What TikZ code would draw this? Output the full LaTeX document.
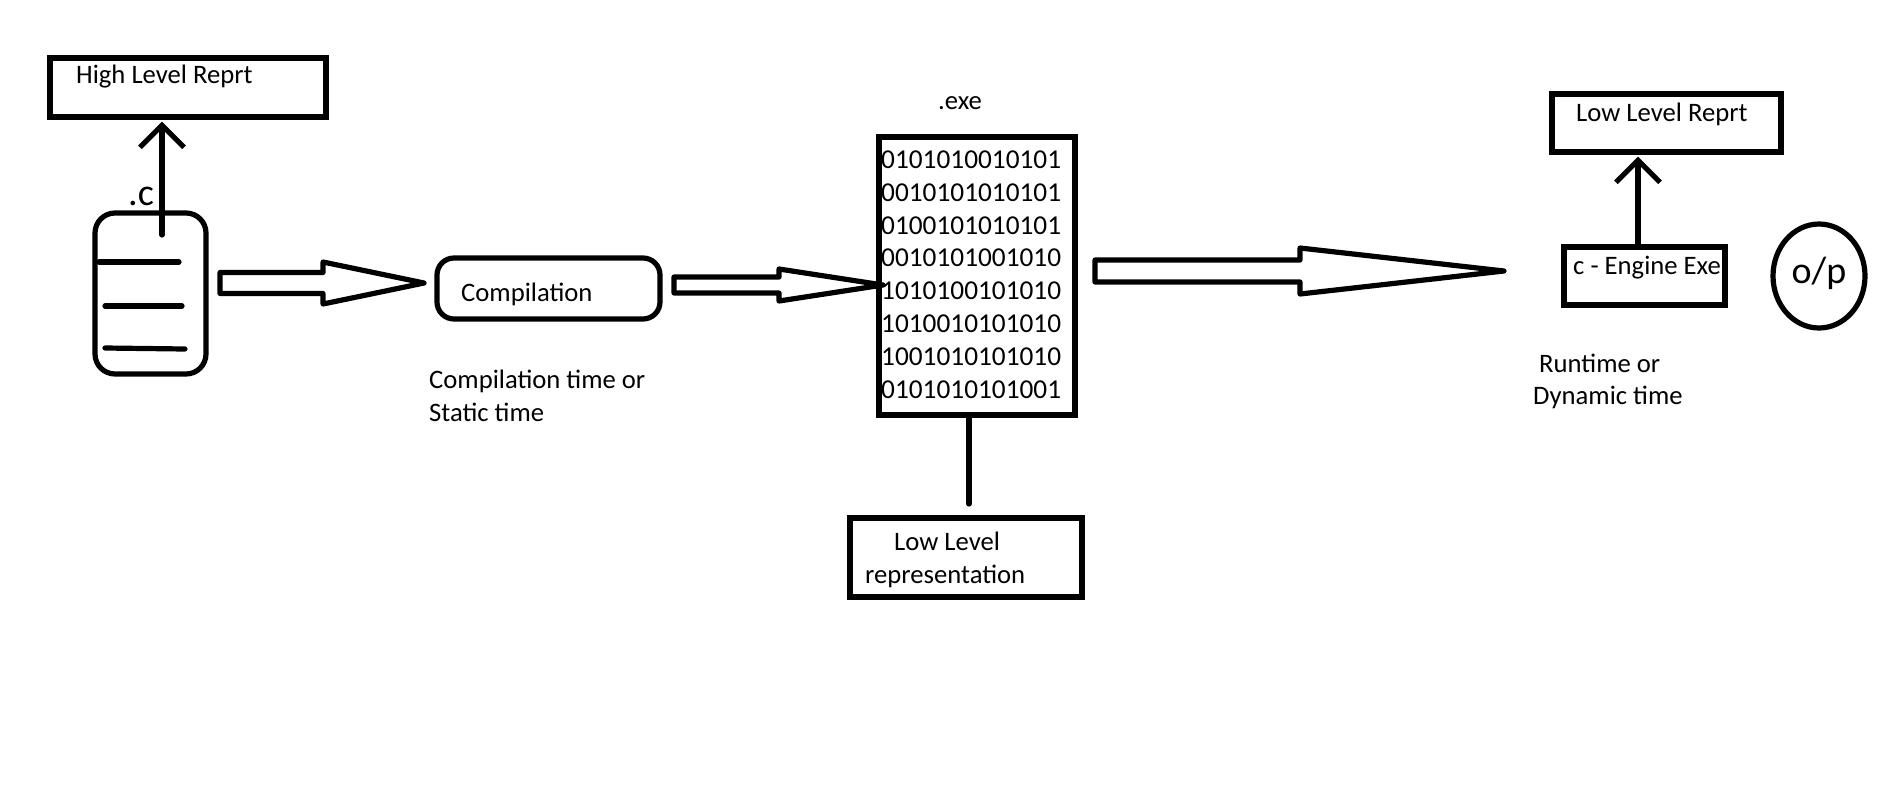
\documentclass[tikz,border=0pt]{standalone}
\usepackage{fontspec}
\setmainfont{Carlito}
\usetikzlibrary{arrows.meta,calc,shapes.geometric}
\tikzset{
    fatline/.style={line width=5.2pt,line join=round,line cap=round},
    boxnode/.style={draw,line width=5.2pt,inner sep=0pt},
    txt/.style={anchor=base west,inner sep=0pt,font=\fontsize{26.67}{33}\selectfont},
    bitstxt/.style={txt,font=\fontsize{27.3}{33}\selectfont},
    bigtxt/.style={anchor=base west,inner sep=0pt,font=\fontsize{38}{44}\selectfont},
    barbline/.style={fatline,-{Straight Barb[length=22pt,width=44pt,line width=5.2pt]},shorten >=2pt}
}
% start, tip, head length, half shaft, half head
\newcommand{\hollowarrow}[5]{
    \draw[fatline] ($(#1)+(0,-#4)$) -- ($(#2)+(-#3,-#4)$) -- ($(#2)+(-#3,-#5)$) -- (#2) -- ($(#2)+(-#3,#5)$) -- ($(#2)+(-#3,#4)$) -- ($(#1)+(0,#4)$) --cycle ;
}
\begin{document}
\begin{tikzpicture}[x=1pt,y=-1pt]
    \useasboundingbox (0,0) rectangle (1896,801);
    % boxes
    \node[boxnode,minimum width=276pt,minimum height=59pt] (high) at (188,87.5) {};
    \node[boxnode,rounded corners=20pt,minimum width=111pt,minimum height=161pt] (source) at (150.5,293.5) {};
    \node[boxnode,rounded corners=17pt,minimum width=223pt,minimum height=61pt] (compiler) at (548.5,288.5) {};
    \node[boxnode,minimum width=196pt,minimum height=278pt] (exe) at (977,276) {};
    \node[boxnode,minimum width=232pt,minimum height=79pt] (low) at (966,557.5) {};
    \node[boxnode,minimum width=229pt,minimum height=58pt] (lowrep) at (1666.5,123) {};
    \node[boxnode,minimum width=161pt,minimum height=58pt] (engine) at (1644.5,276) {};
    \node[draw,ellipse,line width=5.2pt,inner sep=0pt,minimum width=92pt,minimum height=104pt] (output) at (1819,276) {};
    % texts
    \node[txt] (highlabel) at (76,83) {High Level Reprt};
    \node[bigtxt] (sourcelabel) at (128,205) {.c};
    \node[txt] (compilerlabel) at (461,301) {Compilation};
    \node[txt] (statica) at (429,388) {Compilation time or};
    \node[txt] (staticb) at (429,421) {Static time};
    \node[txt] (exelabel) at (938,109) {.exe};
    \node[bitstxt] (bitsa) at (881,168) {0101010010101};
    \node[bitstxt] (bitsb) at (881,201) {0010101010101};
    \node[bitstxt] (bitsc) at (881,234) {0100101010101};
    \node[bitstxt] (bitsd) at (881,266) {0010101001010};
    \node[bitstxt] (bitse) at (881,299) {1010100101010};
    \node[bitstxt] (bitsf) at (881,332) {1010010101010};
    \node[bitstxt] (bitsg) at (881,365) {1001010101010};
    \node[bitstxt] (bitsh) at (881,398) {0101010101001};
    \node[txt] (lowa) at (894,550) {Low Level};
    \node[txt] (lowb) at (865,583) {representation};
    \node[txt] (lowreplabel) at (1576,121) {Low Level Reprt};
    \node[txt] (enginelabel) at (1573,274) {c - Engine Exe};
    \node[bigtxt,anchor=base] (outputlabel) at (1819,283) {o/p};
    \node[txt] (runa) at (1539,372) {Runtime or};
    \node[txt] (runb) at (1533,404) {Dynamic time};
    % free ends of the connectors
    \coordinate (srcup) at (162,235);
    \coordinate (engup) at (1638,245);
    \coordinate (exedown) at (969,504);
    \coordinate (arrowaS) at (220,283);
    \coordinate (arrowaT) at (424,283);
    \coordinate (arrowbS) at (674,285);
    \coordinate (arrowbT) at (883,285);
    \coordinate (arrowcS) at (1095,271);
    \coordinate (arrowcT) at (1504,271);
    % strokes inside the source file
    \coordinate (linea) at (99,262);
    \coordinate (lineaE) at (179,262);
    \coordinate (lineb) at (105,306);
    \coordinate (linebE) at (182,306);
    \coordinate (linec) at (105,348);
    \coordinate (linecE) at (185,349);
    \draw[fatline] (linea) -- (lineaE) ;
    \draw[fatline] (lineb) -- (linebE) ;
    \draw[fatline] (linec) -- (linecE) ;
    % connectors
    \draw[barbline] (srcup) -- (srcup |- high.south) ;
    \draw[fatline] (exedown |- exe.south) -- (exedown) ;
    \draw[barbline] (engup) -- (engup |- lowrep.south) ;
    \hollowarrow{arrowaS}{arrowaT}{101}{10.5}{21}
    \hollowarrow{arrowbS}{arrowbT}{104}{8}{16}
    \hollowarrow{arrowcS}{arrowcT}{204}{11}{23}
\end{tikzpicture}
\end{document}
